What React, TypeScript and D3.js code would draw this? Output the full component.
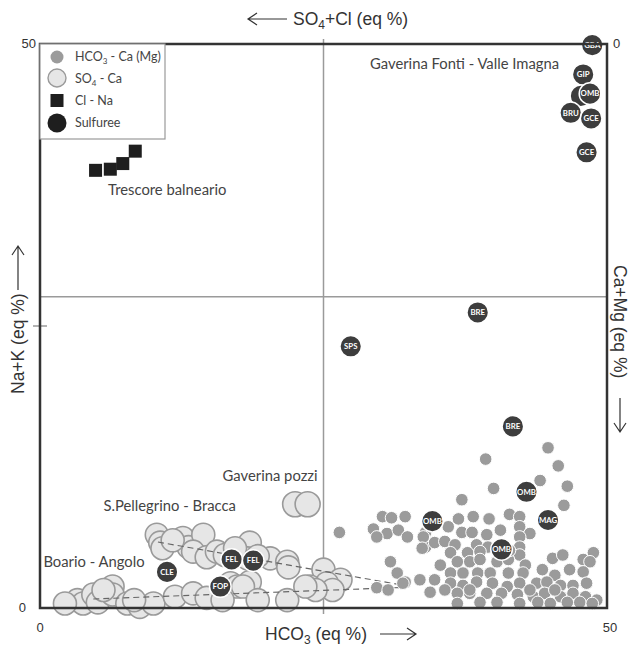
import React from "react";
import * as d3 from "d3";

// HCO3-Ca(Mg) waters: [HCO3 eq%, Na+K eq%]
const bicarbonateX = [44.8,39.3,45.7,44.1,46.5,40.0,37.2,46.2,41.4,42.3,30.2,31.0,32.2,36.9,38.2,39.6,29.4,30.6,31.6,32.4,29.7,36.0,37.2,38.1,39.4,42.3,43.2,42.3,34.0,34.0,34.8,35.7,36.6,38.5,39.5,42.3,36.2,37.7,38.8,42.3,30.9,36.8,37.9,38.8,40.3,41.3,42.8,45.2,46.1,47.9,48.8,48.5,31.5,36.2,37.3,38.6,39.7,41.3,42.6,44.3,45.4,46.7,47.9,32.2,33.5,34.8,29.7,30.7,34.4,36.2,37.3,38.5,39.9,41.2,42.3,43.8,44.7,45.9,47.0,48.2,36.8,37.9,39.4,40.7,42.1,43.5,44.5,45.9,47.0,48.1,49.1,36.8,38.8,40.3,42.3,43.9,45.0,46.5,47.6,48.7,26.4,33.8,32.0,35.3,35.7,41.4,40.6,37.9,43.2,45.4,33.7];
const bicarbonateY = [14.2,13.2,12.6,11.3,10.8,10.6,9.6,9.1,8.3,8.1,8.1,8.0,8.1,7.9,8.1,7.9,7.0,6.6,6.9,6.3,6.3,7.2,6.7,6.7,6.5,7.2,6.6,6.3,6.7,5.4,5.8,5.9,5.6,5.6,5.4,5.4,4.9,4.9,5.0,4.7,4.1,4.1,4.1,4.3,4.1,4.3,3.8,4.4,4.7,4.3,4.9,4.1,3.1,3.1,3.1,3.1,3.1,3.1,3.1,3.4,2.9,3.4,3.2,2.3,2.5,2.5,1.8,1.6,1.4,2.2,2.0,2.3,2.2,1.9,2.2,2.2,2.3,2.0,2.0,2.2,1.3,1.3,1.3,1.3,1.2,1.0,1.3,1.0,1.3,1.0,0.7,0.4,0.5,0.5,0.4,0.5,0.4,0.5,0.5,0.4,6.7,6.3,2.2,3.8,1.6,5.1,6.9,1.6,1.6,1.6,5.3];

// SO4-Ca waters
const sulfateX = [10.3,10.6,10.8,12.6,13.1,14.4,13.5,14.7,15.6,16.3,18.5,18.3,20.3,21.8,21.9,25.0,26.5,25.3,23.8,25.8,11.7,17.2,19.2,24.3,18.5,3.3,3.8,4.7,5.1,6.4,6.4,7.7,8.8,10.0,11.9,13.5,14.7,16.8,17.4,17.9,16.1,19.2,21.8,23.4,2.2,5.6,8.3,22.5,23.6];
const sulfateY = [6.5,5.8,5.3,6.2,5.4,6.5,5.0,4.5,5.0,4.7,5.8,4.4,4.4,4.1,3.6,3.4,2.5,2.2,1.9,1.6,6.0,5.3,4.6,1.6,2.3,0.7,0.4,1.2,0.5,1.9,1.2,0.4,0.1,0.4,1.0,1.3,0.9,2.2,1.9,1.9,0.7,0.7,0.7,1.9,0.4,1.6,0.7,9.2,9.2];

// Cl-Na waters (Trescore)
const chlorideX = [4.9, 6.2, 7.3, 8.4];
const chlorideY = [38.8, 38.9, 39.4, 40.5];

// Sulphurous springs
const sulfurNames = ["GBA","GIP","","OMB","BRU","GCE","GCE","BRE","SPS","BRE","OMB","MAG","OMB","OMB","FEL","FEL","CLE","FOP"];
const sulfurX = [48.7,47.9,47.7,48.5,46.8,48.6,48.2,38.6,27.4,41.7,42.9,44.8,34.6,40.7,16.9,18.8,11.2,15.9];
const sulfurY = [49.9,47.3,45.4,45.6,43.9,43.4,40.4,26.2,23.2,16.1,10.3,7.8,7.7,5.2,4.3,4.2,3.2,1.9];

// Mixing trends (dashed): [start, end] in eq%
const mixUpperX = [10.4, 32.9];
const mixUpperY = [5.85, 1.86];
const mixLowerX = [4.7, 32.9];
const mixLowerY = [0.8, 1.86];

// Group labels
const groupNames = ["Gaverina Fonti - Valle Imagna", "Trescore balneario", "Gaverina pozzi", "S.Pellegrino - Bracca", "Boario - Angolo"];
const groupX = [29.1, 6.0, 16.1, 5.6, 0.3];
const groupY = [47.8, 36.6, 11.3, 8.6, 3.6];

const legendLabels = ["HCO3 - Ca (Mg)", "SO4 - Ca", "Cl - Na", "Sulfuree"];

const midX = 25;
const midY = 27.6;

const W = 638;
const H = 646;
const left = 40, right = 607, top = 44, bottom = 608;

export default function App() {
  const x = d3.scaleLinear().domain([0, 50]).range([left, right]);
  const y = d3.scaleLinear().domain([0, 50]).range([bottom, top]);

  const axisFont = "'Liberation Sans', Arial, sans-serif";
  const labelFont = "Lato, 'Open Sans', sans-serif";

  const upper = d3.line<number>().x((_, i) => x(mixUpperX[i])).y((_, i) => y(mixUpperY[i]));
  const lower = d3.line<number>().x((_, i) => x(mixLowerX[i])).y((_, i) => y(mixLowerY[i]));

  const arrowH = (x1: number, x2: number, yy: number) => {
    const dir = Math.sign(x2 - x1);
    return `M${x1},${yy}L${x2},${yy}M${x2 - dir * 9},${yy - 6}L${x2},${yy}L${x2 - dir * 9},${yy + 6}`;
  };
  const arrowV = (xx: number, y1: number, y2: number) => {
    const dir = Math.sign(y2 - y1);
    return `M${xx},${y1}L${xx},${y2}M${xx - 6},${y2 - dir * 9}L${xx},${y2}L${xx + 6},${y2 - dir * 9}`;
  };

  return (
    <svg width={W} height={H} style={{ position: "absolute", left: 0, top: 0, background: "#fff" }}>
      {/* centre lines */}
      <line x1={x(midX)} x2={x(midX)} y1={top - 5} y2={bottom + 6} stroke="#9a9a9a" strokeWidth={1.5} />
      <line x1={left} x2={right} y1={y(midY)} y2={y(midY)} stroke="#9a9a9a" strokeWidth={1.5} />
      <line x1={left - 7} x2={left + 7} y1={y(25)} y2={y(25)} stroke="#9a9a9a" strokeWidth={1.5} />

      {/* SO4-Ca */}
      {sulfateX.map((v, i) => (
        <circle key={"s" + i} cx={x(v)} cy={y(sulfateY[i])} r={i >= sulfateX.length - 2 ? 12.5 : 11.5}
          fill="#e6e6e6" stroke="#9a9a9a" strokeWidth={1.6} />
      ))}

      {/* mixing trends */}
      <path d={upper([0, 1]) || ""} fill="none" stroke="#666" strokeWidth={1.2} strokeDasharray="6,4" />
      <path d={lower([0, 1]) || ""} fill="none" stroke="#666" strokeWidth={1.2} strokeDasharray="6,4" />

      {/* HCO3-Ca(Mg) */}
      {bicarbonateX.map((v, i) => (
        <circle key={"b" + i} cx={x(v)} cy={y(bicarbonateY[i])} r={6.3}
          fill="#9b9b9b" stroke="#fff" strokeWidth={1} />
      ))}

      {/* Cl-Na */}
      {chlorideX.map((v, i) => (
        <rect key={"c" + i} x={x(v) - 6.5} y={y(chlorideY[i]) - 6.5} width={13} height={13} fill="#1e1e1e" />
      ))}

      {/* sulphurous */}
      {sulfurX.map((v, i) => (
        <g key={"f" + i} transform={`translate(${x(v)},${y(sulfurY[i])})`}>
          <circle r={10.8} fill="#3d3d3d" stroke="#fff" strokeWidth={1.5} />
          <text textAnchor="middle" dy="0.35em" fontSize={7.8} fontWeight="bold" fill="#fff"
            fontFamily={labelFont}>{sulfurNames[i]}</text>
        </g>
      ))}

      {/* frame */}
      <rect x={left} y={top} width={right - left} height={bottom - top} fill="none" stroke="#333" strokeWidth={2.5} />

      {/* group labels */}
      {groupNames.map((t, i) => (
        <text key={"g" + i} x={x(groupX[i])} y={y(groupY[i])} fontSize={14.8} fill="#444" fontFamily={labelFont}>{t}</text>
      ))}

      {/* legend */}
      <rect x={left} y={top} width={125} height={95} fill="#fff" stroke="#999" strokeWidth={1.2} />
      <circle cx={57} cy={57} r={6.5} fill="#9b9b9b" />
      <circle cx={57} cy={78} r={9} fill="#e6e6e6" stroke="#9a9a9a" strokeWidth={1.4} />
      <rect x={50.5} y={94} width={13} height={13} fill="#1e1e1e" />
      <circle cx={57} cy={123} r={9.5} fill="#1e1e1e" />
      {legendLabels.map((t, i) => {
        const yy = 57 + i * 22 + 4;
        if (i === 0) {
          return (
            <text key={"l" + i} x={75} y={yy} fontSize={12.5} fill="#444" fontFamily={labelFont}>
              HCO<tspan fontSize={8} dy={3}>3</tspan><tspan dy={-3}> - Ca (Mg)</tspan>
            </text>
          );
        }
        if (i === 1) {
          return (
            <text key={"l" + i} x={75} y={yy} fontSize={12.5} fill="#444" fontFamily={labelFont}>
              SO<tspan fontSize={8} dy={3}>4</tspan><tspan dy={-3}> - Ca</tspan>
            </text>
          );
        }
        return <text key={"l" + i} x={75} y={yy} fontSize={12.5} fill="#444" fontFamily={labelFont}>{t}</text>;
      })}

      {/* tick labels */}
      <g fontFamily={axisFont} fontSize={13} fill="#333">
        <text x={left - 4} y={top + 4} textAnchor="end">50</text>
        <text x={left - 14} y={bottom + 4} textAnchor="end">0</text>
        <text x={left} y={bottom + 24} textAnchor="middle">0</text>
        <text x={right + 3} y={bottom + 24} textAnchor="middle">50</text>
        <text x={right + 6} y={top + 4}>0</text>
      </g>

      {/* axis titles */}
      <g fontFamily={axisFont} fontSize={17.5} fill="#333">
        <path d={arrowH(287, 248, 19)} fill="none" stroke="#333" strokeWidth={1.2} />
        <text x={293} y={25}>SO<tspan fontSize={12} dy={4}>4</tspan><tspan dy={-4}>+Cl (eq %)</tspan></text>

        <text x={265} y={640}>HCO<tspan fontSize={12} dy={4}>3</tspan><tspan dy={-4}> (eq %)</tspan></text>
        <path d={arrowH(380, 416, 634)} fill="none" stroke="#333" strokeWidth={1.2} />

        <text transform="translate(24,394) rotate(-90)">Na+K (eq %)</text>
        <path d={arrowV(18, 290, 246)} fill="none" stroke="#333" strokeWidth={1.2} />

        <text transform="translate(614,265) rotate(90)">Ca+Mg (eq %)</text>
        <path d={arrowV(620, 398, 432)} fill="none" stroke="#333" strokeWidth={1.2} />
      </g>
    </svg>
  );
}
